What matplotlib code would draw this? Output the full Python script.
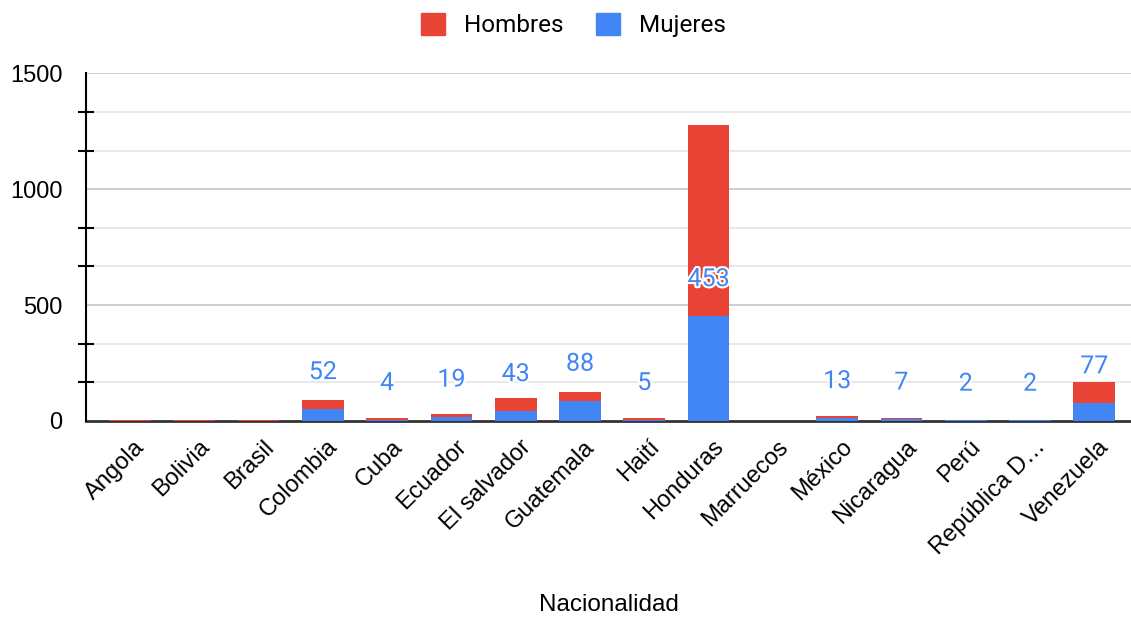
import numpy as np
import matplotlib.pyplot as plt
import matplotlib.patheffects as pe
import matplotlib.transforms as mtransforms
from matplotlib.patches import Patch
from matplotlib.ticker import FixedLocator

paises = ['Angola', 'Bolivia', 'Brasil', 'Colombia', 'Cuba', 'Ecuador', 'El salvador',
          'Guatemala', 'Haití', 'Honduras', 'Marruecos', 'México', 'Nicaragua', 'Perú',
          'República D…', 'Venezuela']
mujeres = [0, 0, 0, 52, 4, 19, 43, 88, 5, 453, 0, 13, 7, 2, 2, 77]
hombres = [4, 4, 4, 38, 8, 12, 55, 36, 8, 823, 0, 8, 6, 0, 0, 90]

RED = '#E84335'
BLUE = '#4285F4'

fig = plt.figure(figsize=(11.31, 6.19), dpi=100)
ax = fig.add_axes([0.076, 0.320, 0.924, 0.5616])

x = np.arange(len(paises))
ax.bar(x, mujeres, width=0.65, color=BLUE, zorder=3)
ax.bar(x, hombres, width=0.65, bottom=mujeres, color=RED, zorder=3)

# etiquetas de Mujeres
for xi, v in zip(x, mujeres):
    if v > 0:
        ax.annotate(str(v), (xi, v), xytext=(0, 26.5), textcoords='offset points',
                    ha='center', va='center', color=BLUE, fontsize=18,
                    family='Roboto', zorder=5,
                    path_effects=[pe.withStroke(linewidth=3, foreground='white')])

ax.set_xlim(-0.684, 15.57)
ax.set_ylim(0, 1500)

# rejilla
minor = [500 / 3 * k for k in range(1, 9) if k % 3 != 0]
for y in minor:
    ax.axhline(y, color='#e6e6e6', lw=1.3, zorder=1)
for y in [500, 1000, 1500]:
    ax.axhline(y, color='#cccccc', lw=1.3, zorder=1)

ax.yaxis.set_major_locator(FixedLocator([0, 500, 1000, 1500]))
ax.yaxis.set_minor_locator(FixedLocator(minor))
ax.tick_params(axis='y', which='major', length=0, pad=17, labelsize=17)
ax.tick_params(axis='y', which='minor', length=12, width=1.5, direction='inout', color='black')
for lbl in ax.get_yticklabels():
    lbl.set_family('Liberation Sans')

ax.set_xticks(x)
ax.set_xticklabels(paises, rotation=45, ha='right', rotation_mode='anchor',
                   fontsize=17, family='Liberation Sans')
ax.tick_params(axis='x', length=0, pad=10)
shift = mtransforms.ScaledTranslation(4 / 100, -1 / 100, fig.dpi_scale_trans)
for lbl in ax.get_xticklabels():
    lbl.set_transform(lbl.get_transform() + shift)

for s in ['top', 'right']:
    ax.spines[s].set_visible(False)
ax.spines['left'].set_color('black')
ax.spines['left'].set_linewidth(1.5)
ax.spines['bottom'].set_color('#333333')
ax.spines['bottom'].set_linewidth(2)
ax.spines['bottom'].set_zorder(2)

ax.set_xlabel('Nacionalidad', fontsize=17.5, family='Liberation Sans', labelpad=25)

handles = [Patch(color=RED, label='Hombres'), Patch(color=BLUE, label='Mujeres')]
fig.legend(handles=handles, loc='upper center', bbox_to_anchor=(0.507, 1.014), ncol=2,
           frameon=False, prop={'family': 'Roboto', 'size': 17.5},
           handlelength=1.0, handleheight=1.0, columnspacing=1.3, handletextpad=0.8)

fig.savefig('out.png', dpi=100)
